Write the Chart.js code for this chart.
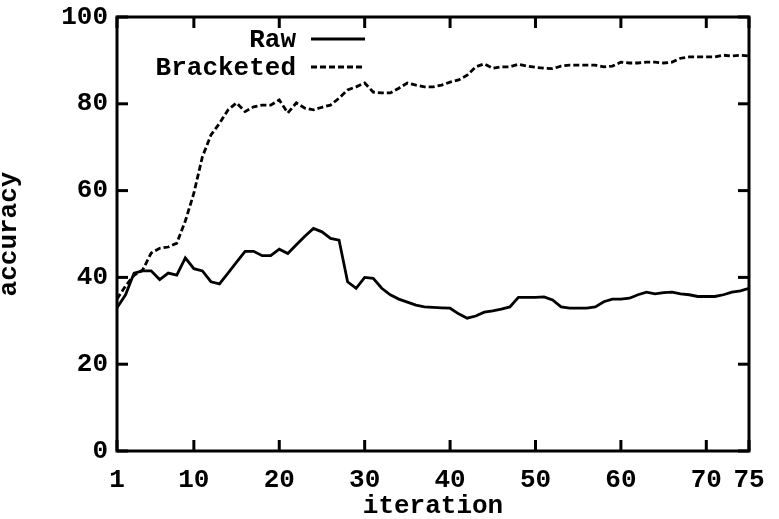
<!DOCTYPE html>
<html>
<head>
<meta charset="utf-8">
<script src="https://cdn.jsdelivr.net/npm/chart.js@4/dist/chart.umd.min.js"></script>
<style>
  html, body { margin: 0; padding: 0; background: #fff; }
  #wrap { width: 779px; height: 519px; }
</style>
</head>
<body>
<div id="wrap"><canvas id="accChart"></canvas></div>
<script>
// iterations 1..75 on the x axis
const iterations = Array.from({ length: 75 }, (_, i) => i + 1);

// accuracy
const rawAccuracy = [
  33, 36, 41, 41.5, 41.5, 39.5, 41, 40.5, 44.5, 42,
  41.5, 39, 38.5, 41, 43.5, 46, 46, 45, 45, 46.5,
  45.5, 47.5, 49.5, 51.3, 50.5, 49, 48.6, 39, 37.5, 40,
  39.8, 37.5, 36, 35, 34.3, 33.6, 33.2, 33.1, 33, 32.9,
  31.6, 30.6, 31.1, 32, 32.3, 32.7, 33.2, 35.4, 35.4, 35.4,
  35.5, 34.8, 33.2, 32.9, 32.9, 32.9, 33.2, 34.4, 35, 35,
  35.2, 36, 36.6, 36.2, 36.5, 36.6, 36.2, 36, 35.6, 35.6,
  35.6, 36, 36.6, 36.9, 37.5
];
const bracketedAccuracy = [
  35, 38, 40.5, 41.7, 45.6, 46.7, 47, 47.9, 53, 59.4,
  67.8, 72.8, 75.5, 78.6, 80.2, 78.2, 79.3, 79.7, 79.7, 80.9,
  77.9, 80.2, 79, 78.6, 79.2, 79.7, 81.3, 83.2, 83.9, 84.8,
  82.7, 82.5, 82.5, 83.6, 84.8, 84.3, 83.9, 83.9, 84.3, 85,
  85.5, 86.6, 88.5, 89.2, 88.2, 88.5, 88.5, 89.1, 88.7, 88.4,
  88.2, 88.1, 88.7, 88.9, 88.9, 88.9, 88.9, 88.5, 88.7, 89.6,
  89.4, 89.4, 89.6, 89.6, 89.4, 89.6, 90.5, 90.8, 90.8, 90.8,
  90.8, 91.2, 91, 91.2, 91
];

const xTickValues = [1, 10, 20, 30, 40, 50, 60, 70, 75];
const yTickValues = [0, 20, 40, 60, 80, 100];

const FONT = "'Liberation Mono', 'Courier New', monospace";

// gnuplot style frame, inward ticks and legend in the top left
const framePlugin = {
  id: 'frame',
  afterDraw(chart) {
    const ctx = chart.ctx;
    const a = chart.chartArea;
    const xs = chart.scales.x;
    const ys = chart.scales.y;
    ctx.save();
    ctx.setLineDash([]);
    ctx.strokeStyle = '#000';
    ctx.fillStyle = '#000';
    ctx.lineWidth = 3;
    ctx.strokeRect(a.left, a.top, a.right - a.left, a.bottom - a.top);

    // tick marks pointing into the plot
    const tickLen = 11;
    for (let i = 0; i < xTickValues.length; i++) {
      const px = xs.getPixelForValue(xTickValues[i]);
      ctx.fillRect(px - 1.5, a.bottom - tickLen, 3, tickLen);
      ctx.fillRect(px - 1.5, a.top, 3, tickLen);
    }
    for (let i = 0; i < yTickValues.length; i++) {
      const py = ys.getPixelForValue(yTickValues[i]);
      ctx.fillRect(a.left, py - 1.5, tickLen, 3);
      ctx.fillRect(a.right - tickLen, py - 1.5, tickLen, 3);
    }

    // legend
    ctx.font = 'bold 26px ' + FONT;
    ctx.textAlign = 'right';
    ctx.textBaseline = 'middle';
    chart.data.datasets.forEach((ds, i) => {
      const ly = 40 + i * 28;
      ctx.fillText(ds.label, 296, ly);
      ctx.beginPath();
      ctx.lineWidth = ds.borderWidth;
      ctx.setLineDash(ds.borderDash || []);
      ctx.moveTo(311, ly - 1);
      ctx.lineTo(365, ly - 1);
      ctx.stroke();
    });
    ctx.restore();
  }
};

const ctx = document.getElementById('accChart').getContext('2d');
const accChart = new Chart(ctx, {
  type: 'line',
  data: {
    labels: iterations,
    datasets: [
      {
        label: 'Raw',
        data: rawAccuracy,
        borderColor: '#000',
        borderWidth: 2.8,
        pointRadius: 0,
        tension: 0
      },
      {
        label: 'Bracketed',
        data: bracketedAccuracy,
        borderColor: '#000',
        borderWidth: 2.8,
        borderDash: [6, 3],
        pointRadius: 0,
        tension: 0
      }
    ]
  },
  options: {
    responsive: true,
    maintainAspectRatio: false,
    animation: false,
    layout: { padding: { left: 0, top: 17, right: 30, bottom: 0 } },
    plugins: {
      legend: { display: false },
      tooltip: { enabled: false }
    },
    scales: {
      x: {
        type: 'linear',
        min: 1,
        max: 75,
        afterBuildTicks: (scale) => { scale.ticks = xTickValues.map(v => ({ value: v })); },
        afterFit: (scale) => { scale.height = 68; },
        grid: { display: false, drawTicks: false },
        border: { display: false },
        ticks: {
          autoSkip: false,
          maxRotation: 0,
          padding: 14,
          color: '#000',
          font: { family: FONT, size: 26, weight: 'bold' }
        },
        title: {
          display: true,
          text: 'iteration',
          color: '#000',
          padding: 0,
          font: { family: FONT, size: 26, weight: 'bold', lineHeight: 0.95 }
        }
      },
      y: {
        min: 0,
        max: 100,
        afterBuildTicks: (scale) => { scale.ticks = yTickValues.map(v => ({ value: v })); },
        afterFit: (scale) => {
          scale.width = 117;
          scale.paddingTop = 0;
          scale.paddingBottom = 0;
        },
        grid: { display: false, drawTicks: false },
        border: { display: false },
        ticks: {
          padding: 9,
          color: '#000',
          font: { family: FONT, size: 26, weight: 'bold' }
        },
        title: {
          display: true,
          text: 'accuracy',
          color: '#000',
          padding: 0,
          font: { family: FONT, size: 26, weight: 'bold', lineHeight: 0.75 }
        }
      }
    }
  },
  plugins: [framePlugin]
});
</script>
</body>
</html>
